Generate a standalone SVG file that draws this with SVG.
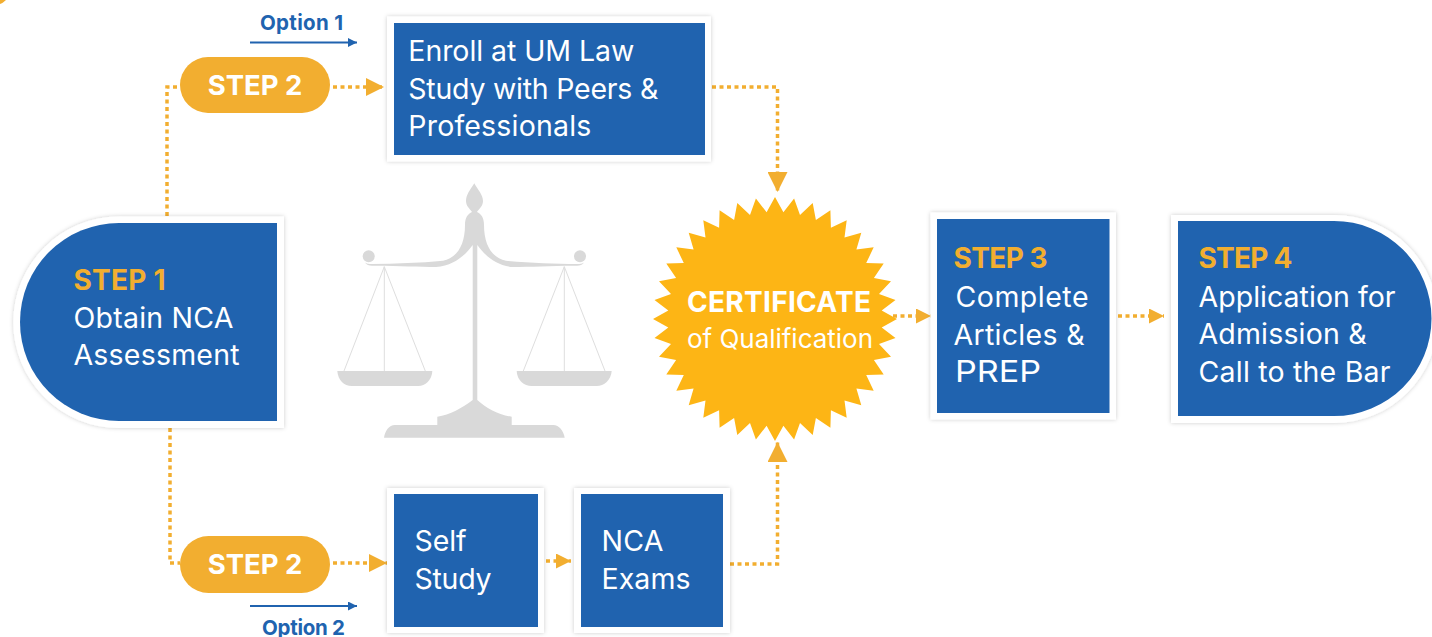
<svg xmlns="http://www.w3.org/2000/svg" width="1432" height="637" viewBox="0 0 1432 637">
<style>
text{font-family:Inter,"Noto Sans","Liberation Sans",sans-serif}
.frame{fill:#fff;filter:url(#sh)}
.blue{fill:#2063AF}
.pill{fill:#F2AE30}
.t{fill:#fff;font-size:28.500px}
.s{fill:#F2AE30;font-size:28px;font-weight:700}
.p{fill:#fff;font-size:27.500px;font-weight:700;text-anchor:middle}
.o{fill:#2063AF;font-size:20.500px;font-weight:700}
.dot{fill:none;stroke:#F2AE30;stroke-width:3.5;stroke-dasharray:4 3.5}
.opt{fill:none;stroke:#2063AF;stroke-width:2}
.gr{fill:#D9D9D9}
.str{stroke:#DEDEDE;stroke-width:1;fill:none}
</style>
<defs>
<filter id="sh" x="-5%" y="-5%" width="110%" height="110%"><feDropShadow dx="0" dy="0" stdDeviation="2" flood-color="#000" flood-opacity="0.2"/></filter>
<marker id="a15" markerUnits="userSpaceOnUse" markerWidth="15" markerHeight="15" refX="15" refY="7.5" orient="auto"><path d="M0,0L15,7.5L0,15Z" fill="#F2AE30"/></marker>
<marker id="a18" markerUnits="userSpaceOnUse" markerWidth="18" markerHeight="18" refX="18" refY="9" orient="auto"><path d="M0,0L18,9L0,18Z" fill="#F2AE30"/></marker>
<marker id="a20" markerUnits="userSpaceOnUse" markerWidth="20" markerHeight="20" refX="20" refY="10" orient="auto"><path d="M0,0L20,10L0,20Z" fill="#F2AE30"/></marker>
<marker id="ab" markerUnits="userSpaceOnUse" markerWidth="9" markerHeight="9" refX="9" refY="4.5" orient="auto"><path d="M0,0L9,4.5L0,9Z" fill="#2063AF"/></marker>
</defs>
<rect width="1432" height="637" fill="#fff"/>
<path d="M0,4Q3,3 6,0L0,0Z" fill="#F2AE30"/>

<g id="scales">
<path class="gr" d="M474.300,183.300C470,190 466,195 466,201C466,206 470,209 472,212C468,214 465,217 465,225C465,245 457,258 443,260.700C420,263 395,263.500 372,264C369,264 366.500,263.700 365,262.500C366.500,265 369,265.700 372,265.700C395,265.500 420,267 436,267C455,266 467,253 472.700,245V400C462,408 450,415 437.300,416.700V425H395C389,425 385,431 384,437.700H564.700C563.700,431 559,425 553.300,425H511.700V416.700C498,415 486,408 477.300,400V245C483,253 495,266 513,267C530,267 555,265.500 577,265.700C580,265.700 582.500,265 584,262.500C582.500,263.700 580,264 577,264C555,263.500 530,263 506,260.700C492,258 484,245 484,225C484,217 481,214 477,212C479,209 483,206 483,201C483,195 478,190 474.300,183.300Z"/>
<circle class="gr" cx="368.700" cy="256.300" r="6"/>
<circle class="gr" cx="580" cy="256.300" r="6"/>
<path class="str" d="M344,371L384.300,266.700L425.300,371M384.300,266.700V371M523.300,371L564.300,266.700L605,371M564.300,266.700V371"/>
<path class="gr" d="M337.300,371H432.300C432,380 425,386 418.300,386H351.700C344,386 338,380 337.300,371Z"/>
<path class="gr" d="M516.700,371H611.700C611,380 604,386 596.700,386H531.700C524,386 517,380 516.700,371Z"/>
</g>

<g id="connectors">
<path class="dot" d="M167,216V87H180"/>
<path class="dot" d="M333,87H384" marker-end="url(#a18)"/>
<path class="dot" d="M712,87H777.500V192" marker-end="url(#a20)"/>
<path class="dot" d="M170,428V563H180"/>
<path class="dot" d="M333,563H387" marker-end="url(#a18)"/>
<path class="dot" d="M546,561H571" marker-end="url(#a15)"/>
<path class="dot" d="M730,564H777.500V442" marker-end="url(#a20)"/>
<path class="dot" d="M893,316H931" marker-end="url(#a15)"/>
<path class="dot" d="M1118,316H1164" marker-end="url(#a15)"/>
<path class="opt" d="M250,42.500H357" marker-end="url(#ab)"/>
<path class="opt" d="M250,606H357" marker-end="url(#ab)"/>
</g>

<g id="option1"><text class="o" x="260" y="29.500" textLength="83">Option 1</text></g>
<g id="option2"><text class="o" x="262" y="634.500" textLength="83">Option 2</text></g>

<g id="step1">
<path class="frame" d="M284,216.500V428H119A105.700,105.700 0 0 1 119,216.500Z"/>
<path class="blue" d="M277,223V421H119A99,99 0 0 1 119,223Z"/>
<text class="s" x="73.500" y="290" textLength="92">STEP 1</text>
<text class="t" x="73.500" y="328" textLength="160">Obtain NCA</text>
<text class="t" x="73.500" y="365" textLength="166">Assessment</text>
</g>
<g id="step2a">
<rect class="pill" x="180" y="57" width="150" height="56" rx="28"/>
<text class="p" x="255" y="95">STEP 2</text>
</g>
<g id="enroll">
<rect class="frame" x="387" y="16.500" width="324" height="145"/>
<rect class="blue" x="394" y="23" width="311" height="132"/>
<text class="t" x="408.300" y="61" textLength="226">Enroll at UM Law</text>
<text class="t" x="408.300" y="99" textLength="250">Study with Peers &amp;</text>
<text class="t" x="408.300" y="136" textLength="183">Professionals</text>
</g>
<g id="step2b">
<rect class="pill" x="180" y="536" width="150" height="57" rx="28.500"/>
<text class="p" x="255" y="574">STEP 2</text>
</g>
<g id="selfstudy">
<rect class="frame" x="387" y="488" width="157" height="145"/>
<rect class="blue" x="394" y="494" width="144" height="133"/>
<text class="t" x="414.500" y="551" textLength="52">Self</text>
<text class="t" x="414.500" y="589" textLength="77">Study</text>
</g>
<g id="ncaexams">
<rect class="frame" x="574" y="488" width="156" height="145"/>
<rect class="blue" x="581" y="494" width="142" height="133"/>
<text class="t" x="601.500" y="551" textLength="62">NCA</text>
<text class="t" x="601.500" y="589" textLength="89">Exams</text>
</g>
<g id="certificate">
<polygon fill="#FDB515" transform="translate(775,319)" points="0,-122 8.4,-106.7 19.1,-120.5 25,-104 37.7,-116 40.9,-98.9 55.4,-108.7 55.9,-91.2 71.7,-98.7 69.5,-81.4 86.3,-86.3 81.4,-69.5 98.7,-71.7 91.2,-55.9 108.7,-55.4 98.9,-40.9 116,-37.7 104,-25 120.5,-19.1 106.7,-8.4 122,0 106.7,8.4 120.5,19.1 104,25 116,37.7 98.9,40.9 108.7,55.4 91.2,55.9 98.7,71.7 81.4,69.5 86.3,86.3 69.5,81.4 71.7,98.7 55.9,91.2 55.4,108.7 40.9,98.9 37.7,116 25,104 19.1,120.5 8.4,106.7 0,122 -8.4,106.7 -19.1,120.5 -25,104 -37.7,116 -40.9,98.9 -55.4,108.7 -55.9,91.2 -71.7,98.7 -69.5,81.4 -86.3,86.3 -81.4,69.5 -98.7,71.7 -91.2,55.9 -108.7,55.4 -98.9,40.9 -116,37.7 -104,25 -120.5,19.1 -106.7,8.4 -122,0 -106.7,-8.4 -120.5,-19.1 -104,-25 -116,-37.7 -98.9,-40.9 -108.7,-55.4 -91.2,-55.9 -98.7,-71.7 -81.4,-69.5 -86.3,-86.3 -69.5,-81.4 -71.7,-98.7 -55.9,-91.2 -55.4,-108.7 -40.9,-98.9 -37.7,-116 -25,-104 -19.1,-120.5 -8.4,-106.7"/>
<text x="687" y="312.300" fill="#fff" font-size="28" font-weight="700" textLength="184">CERTIFICATE</text>
<text x="687" y="348.300" fill="#fff" font-size="26" textLength="186">of Qualification</text>
</g>
<g id="step3">
<rect class="frame" x="930.500" y="212.500" width="185.500" height="207"/>
<rect class="blue" x="937" y="219" width="172.500" height="194"/>
<text class="s" x="953.500" y="268.300" textLength="94">STEP 3</text>
<text class="t" x="955.500" y="307.300" textLength="133">Complete</text>
<text class="t" x="953.500" y="345.300" textLength="131">Articles &amp;</text>
<text class="t" x="955" y="382.300" style="font-size:30px" textLength="86" lengthAdjust="spacingAndGlyphs">PREP</text>
</g>
<g id="step4">
<path class="frame" d="M1171,215H1334A104,104 0 0 1 1334,423H1171Z"/>
<path class="blue" d="M1178,221H1334A97.500,97.500 0 0 1 1334,416H1178Z"/>
<text class="s" x="1198.500" y="268.300" textLength="94">STEP 4</text>
<text class="t" x="1198.500" y="307.300" textLength="197">Application for</text>
<text class="t" x="1198.500" y="344.300" textLength="168">Admission &amp;</text>
<text class="t" x="1198.500" y="382.300" textLength="192">Call to the Bar</text>
</g>
</svg>
